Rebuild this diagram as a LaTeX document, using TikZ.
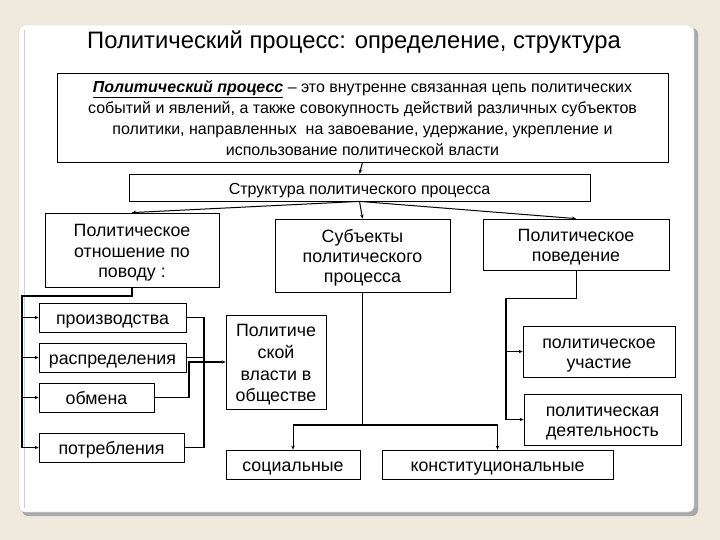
\documentclass[tikz,border=0pt]{standalone}
\usepackage{fontspec}
\setmainfont{Liberation Sans}
\usetikzlibrary{arrows.meta,calc}
\definecolor{bgbeige}{RGB}{239,233,222}
\definecolor{shadowgray}{RGB}{170,170,170}
\definecolor{panelborder}{RGB}{205,205,205}
\newcommand{\topstr}{\rule{0pt}{\dimexpr0.905em+2pt\relax}}
\newcommand{\botstr}{\rule[-0.212em]{0pt}{0pt}}
\tikzset{
  box/.style={draw=black, line width=0.8pt, fill=white, align=center, inner sep=0pt},
  conn/.style={draw=black, line width=1pt},
  thickconn/.style={draw=black, line width=1.8pt},
  arr/.style={draw=black, line width=1pt, -{Stealth[length=4pt,width=3.5pt]}},
  bigtxt/.style={font=\fontsize{17.8}{20.3}\selectfont},
  widetxt/.style={font=\fontsize{17.8}{21.7}\selectfont},
  midtxt/.style={font=\fontsize{16}{21}\selectfont},
}
\begin{document}
\begin{tikzpicture}[x=1pt,y=-1pt]
\useasboundingbox (0,0) rectangle (720,540);
\fill[bgbeige] (0,0) rectangle (720,540);
% panel with shadow
\fill[shadowgray, rounded corners=6pt] (22,28) rectangle (698,516);
\filldraw[fill=white, draw=panelborder, rounded corners=6pt] (19,25) rectangle (694,512);
\draw[panelborder, line width=0.6pt] (24,30) -- (24,508);
% title
\node[font=\fontsize{23.8}{28}\selectfont] (title) at (354,42) {Политический процесс: определение, структура};
% definition
\node[box, midtxt, minimum width=611, minimum height=89] (def) at (362.5,117.5)
 {\topstr\underline{\textbf{\textit{Политический процесс}}} – это внутренне связанная цепь политических\\
  событий и явлений, а также совокупность действий различных субъектов\\
  политики, направленных \ на завоевание, удержание, укрепление и\\
  использование политической власти\botstr};
\node[box, midtxt, minimum width=461, minimum height=27] (struct) at (359.5,187.5) {\topstr Структура политического процесса\botstr};
\node[box, bigtxt, minimum width=174, minimum height=74] (rel) at (132,250) {\topstr Политическое\\отношение по\\поводу :\botstr};
\node[box, bigtxt, minimum width=175, minimum height=73] (subj) at (362.5,255.5) {\topstr Субъекты\\политического\\процесса\botstr};
\node[box, bigtxt, minimum width=186, minimum height=51] (beh) at (576,244.5) {\topstr Политическое\\поведение\botstr};
\node[box, bigtxt, minimum width=147, minimum height=29] (prod) at (112.5,317.5) {\topstr производства\botstr};
\node[box, bigtxt, minimum width=147, minimum height=29] (distr) at (112.5,357.5) {\topstr распределения\botstr};
\node[box, bigtxt, minimum width=115, minimum height=29] (exch) at (96.5,397.5) {\topstr обмена\botstr};
\node[box, bigtxt, minimum width=145, minimum height=29] (cons) at (111.5,447.5) {\topstr потребления\botstr};
\node[box, widetxt, minimum width=100, minimum height=94] (power) at (276,362) {\topstr Политиче\\ской\\власти в\\обществе\botstr};
\node[box, bigtxt, minimum width=134, minimum height=29] (soc) at (293,464.5) {\topstr социальные\botstr};
\node[box, bigtxt, minimum width=231, minimum height=29] (const) at (497.5,464.5) {\topstr конституциональные\botstr};
\node[box, bigtxt, minimum width=152, minimum height=51] (part) at (599,351.5) {\topstr политическое\\участие\botstr};
\node[box, bigtxt, minimum width=157, minimum height=51] (act) at (602.5,419.5) {\topstr политическая\\деятельность\botstr};
% top connectors
\draw[arr] (def.south) -- (struct.north);
\draw[arr] (struct.south) -- (rel.north);
\draw[arr] (struct.south) -- (subj.north);
\draw[arr] (struct.south) -- (beh.north);
% left tree
\coordinate (lt) at (22,296);
\coordinate (lb) at (22,447.5);
\draw[thickconn] (rel.south) |- (lt) -- (lb);
\draw[arr] (lt |- prod.west) -- (prod.west);
\draw[arr] (lt |- distr.west) -- (distr.west);
\draw[arr] (lt |- exch.west) -- (exch.west);
\draw[arr] (lb) -- (cons.west);
% right merge
\coordinate (mr) at (204,0);
\coordinate (ml) at (189,0);
\draw[thickconn] (prod.east) -| (mr |- cons.east) -- (cons.east);
\draw[conn] (distr.east) -- (mr |- distr.east);
\draw[thickconn] (exch.east) -| (ml |- power.west) -- ($(power.west)+(-4,0)$);
\draw[arr] (ml |- power.west) -- (power.west);
% subjects
\coordinate (sj) at (0,425);
\draw[thickconn] (subj.south) -- (subj.south |- sj);
\draw[thickconn] (soc.north |- sj) -- (const.north |- sj);
\draw[arr] (soc.north |- sj) -- (soc.north);
\draw[arr] (const.north |- sj) -- (const.north);
% behaviour
\coordinate (bt) at (506,298);
\draw[conn] (beh.south) |- (bt);
\draw[thickconn] (bt) -- (bt |- act.west);
\draw[arr] (bt |- part.west) -- (part.west);
\draw[arr] (bt |- act.west) -- (act.west);
\end{tikzpicture}
\end{document}
